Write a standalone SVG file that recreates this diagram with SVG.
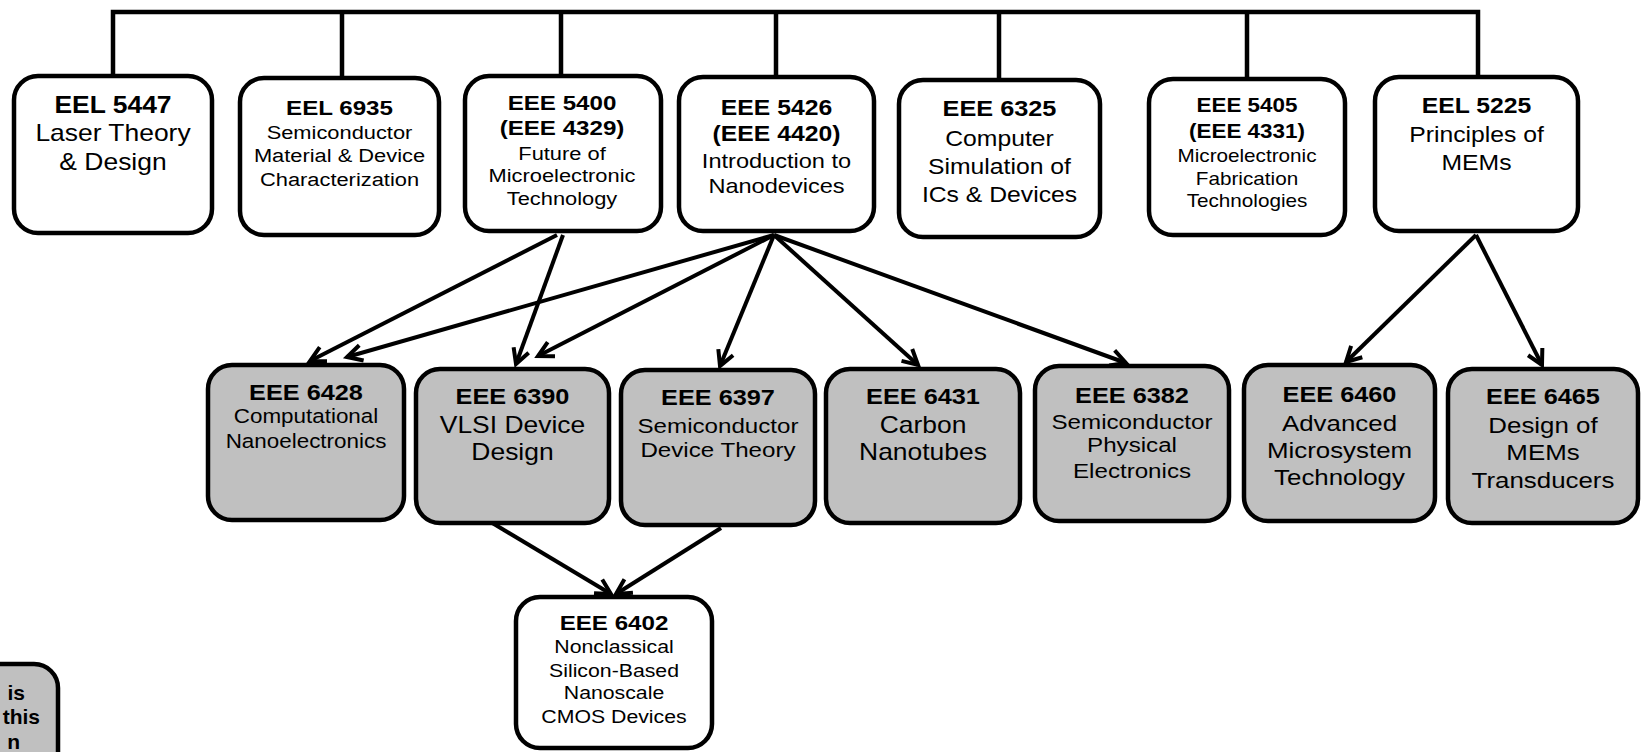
<svg xmlns="http://www.w3.org/2000/svg" width="1645" height="752" viewBox="0 0 1645 752">
<style>
  .box{fill:#fff;stroke:#000;stroke-width:4.5}
  .gray{fill:#c0c0c0;stroke:#000;stroke-width:4.5}
  text{font-family:"Liberation Sans",Arial,Helvetica,sans-serif;fill:#000;text-anchor:middle}
  .b{font-weight:bold}
  .wire{fill:none;stroke:#000;stroke-width:4.5;stroke-linecap:square}
  .arr{fill:none;stroke:#000;stroke-width:4;marker-end:url(#ah)}
</style>
<defs>
  <marker id="ah" markerUnits="userSpaceOnUse" markerWidth="24" markerHeight="24" viewBox="0 0 24 24" refX="18" refY="12" orient="auto">
    <path d="M3,4 L18,12 L3,20" fill="none" stroke="#000" stroke-width="4" stroke-linejoin="miter"/>
  </marker>
</defs>
<rect width="1645" height="752" fill="#fff"/>

<g id="connectors">
  <path class="wire" d="M113,76 V12 H1478 V76 M342,12 V78 M561,12 V76 M776,12 V77 M999,12 V80 M1247,12 V79"/>
  <line class="arr" x1="557" y1="235" x2="310" y2="361"/>
  <line class="arr" x1="563" y1="235" x2="516" y2="364"/>
  <line class="arr" x1="774" y1="235" x2="347" y2="357"/>
  <line class="arr" x1="774" y1="235" x2="538" y2="356"/>
  <line class="arr" x1="774" y1="235" x2="720" y2="366"/>
  <line class="arr" x1="774" y1="235" x2="918" y2="365"/>
  <line class="arr" x1="774" y1="235" x2="1126" y2="363"/>
  <line class="arr" x1="1476" y1="235" x2="1346" y2="362"/>
  <line class="arr" x1="1476" y1="235" x2="1542" y2="365"/>
  <line class="arr" x1="489" y1="521" x2="611" y2="594"/>
  <line class="arr" x1="721" y1="528" x2="616" y2="594"/>
</g>

<g id="eel5447">
  <rect class="box" x="14" y="76" width="198" height="157" rx="24"/>
  <g transform="translate(113 0) scale(1.15 1)">
    <text class="b" font-size="23" y="113">EEL 5447</text>
    <text font-size="23" y="141.5">Laser Theory</text>
    <text font-size="23" y="170">&amp; Design</text>
  </g>
</g>
<g id="eel6935">
  <rect class="box" x="240" y="78" width="199" height="157" rx="24"/>
  <g transform="translate(339.5 0) scale(1.15 1)">
    <text class="b" font-size="21" y="115">EEL 6935</text>
    <text font-size="19" y="139">Semiconductor</text>
    <text font-size="19" y="162.5">Material &amp; Device</text>
    <text font-size="19" y="186">Characterization</text>
  </g>
</g>
<g id="eee5400">
  <rect class="box" x="465" y="76" width="196" height="155" rx="24"/>
  <g transform="translate(562 0) scale(1.15 1)">
    <text class="b" font-size="21" y="110">EEE 5400</text>
    <text class="b" font-size="21" y="135.5">(EEE 4329)</text>
    <text font-size="19" y="160">Future of</text>
    <text font-size="19" y="182.5">Microelectronic</text>
    <text font-size="19" y="205">Technology</text>
  </g>
</g>
<g id="eee5426">
  <rect class="box" x="679" y="77" width="195" height="154" rx="24"/>
  <g transform="translate(776.5 0) scale(1.15 1)">
    <text class="b" font-size="21.5" y="115">EEE 5426</text>
    <text class="b" font-size="21.5" y="141">(EEE 4420)</text>
    <text font-size="20.5" y="168">Introduction to</text>
    <text font-size="20.5" y="193">Nanodevices</text>
  </g>
</g>
<g id="eee6325">
  <rect class="box" x="899" y="80" width="201" height="157" rx="24"/>
  <g transform="translate(999.5 0) scale(1.15 1)">
    <text class="b" font-size="22" y="116">EEE 6325</text>
    <text font-size="21.5" y="146">Computer</text>
    <text font-size="21.5" y="174">Simulation of</text>
    <text font-size="21.5" y="202">ICs &amp; Devices</text>
  </g>
</g>
<g id="eee5405">
  <rect class="box" x="1149" y="79" width="196" height="156" rx="24"/>
  <g transform="translate(1247 0) scale(1.15 1)">
    <text class="b" font-size="19.5" y="112">EEE 5405</text>
    <text class="b" font-size="19.5" y="138">(EEE 4331)</text>
    <text font-size="18" y="162">Microelectronic</text>
    <text font-size="18" y="185">Fabrication</text>
    <text font-size="18" y="207">Technologies</text>
  </g>
</g>
<g id="eel5225">
  <rect class="box" x="1375" y="77" width="203" height="154" rx="24"/>
  <g transform="translate(1476.5 0) scale(1.15 1)">
    <text class="b" font-size="21.5" y="113">EEL 5225</text>
    <text font-size="21.5" y="142">Principles of</text>
    <text font-size="21.5" y="170">MEMs</text>
  </g>
</g>

<g id="eee6428">
  <rect class="gray" x="208" y="365" width="196" height="155" rx="24"/>
  <g transform="translate(306 0) scale(1.15 1)">
    <text class="b" font-size="22" y="400">EEE 6428</text>
    <text font-size="19.5" y="423">Computational</text>
    <text font-size="19.5" y="448">Nanoelectronics</text>
  </g>
</g>
<g id="eee6390">
  <rect class="gray" x="416" y="369" width="193" height="154" rx="24"/>
  <g transform="translate(512.5 0) scale(1.15 1)">
    <text class="b" font-size="22" y="404">EEE 6390</text>
    <text font-size="23" y="433">VLSI Device</text>
    <text font-size="23" y="460">Design</text>
  </g>
</g>
<g id="eee6397">
  <rect class="gray" x="621" y="370" width="194" height="155" rx="24"/>
  <g transform="translate(718 0) scale(1.15 1)">
    <text class="b" font-size="22" y="405">EEE 6397</text>
    <text font-size="21" y="433">Semiconductor</text>
    <text font-size="21" y="457">Device Theory</text>
  </g>
</g>
<g id="eee6431">
  <rect class="gray" x="826" y="369" width="194" height="154" rx="24"/>
  <g transform="translate(923 0) scale(1.15 1)">
    <text class="b" font-size="22" y="404">EEE 6431</text>
    <text font-size="23" y="433">Carbon</text>
    <text font-size="23" y="460">Nanotubes</text>
  </g>
</g>
<g id="eee6382">
  <rect class="gray" x="1035" y="366" width="194" height="155" rx="24"/>
  <g transform="translate(1132 0) scale(1.15 1)">
    <text class="b" font-size="22" y="403">EEE 6382</text>
    <text font-size="21" y="429">Semiconductor</text>
    <text font-size="21" y="452">Physical</text>
    <text font-size="21" y="478">Electronics</text>
  </g>
</g>
<g id="eee6460">
  <rect class="gray" x="1244" y="365" width="191" height="156" rx="24"/>
  <g transform="translate(1339.5 0) scale(1.15 1)">
    <text class="b" font-size="22" y="402">EEE 6460</text>
    <text font-size="22.5" y="431">Advanced</text>
    <text font-size="22.5" y="458">Microsystem</text>
    <text font-size="22.5" y="485">Technology</text>
  </g>
</g>
<g id="eee6465">
  <rect class="gray" x="1448" y="369" width="190" height="154" rx="24"/>
  <g transform="translate(1543 0) scale(1.15 1)">
    <text class="b" font-size="22" y="404">EEE 6465</text>
    <text font-size="22.5" y="433">Design of</text>
    <text font-size="22.5" y="460">MEMs</text>
    <text font-size="22.5" y="488">Transducers</text>
  </g>
</g>

<g id="eee6402">
  <rect class="box" x="516" y="597" width="196" height="151" rx="24"/>
  <g transform="translate(614 0) scale(1.15 1)">
    <text class="b" font-size="21" y="630">EEE 6402</text>
    <text font-size="18.5" y="653">Nonclassical</text>
    <text font-size="18.5" y="677">Silicon-Based</text>
    <text font-size="18.5" y="699">Nanoscale</text>
    <text font-size="18.5" y="723">CMOS Devices</text>
  </g>
</g>

<g id="legend">
  <rect class="gray" x="-200" y="664" width="258" height="200" rx="24"/>
  <text class="b" font-size="21" x="25" y="700" style="text-anchor:end">is</text>
  <text class="b" font-size="21" x="40" y="724" style="text-anchor:end">this</text>
  <text class="b" font-size="21" x="20" y="749" style="text-anchor:end">n</text>
</g>
</svg>
